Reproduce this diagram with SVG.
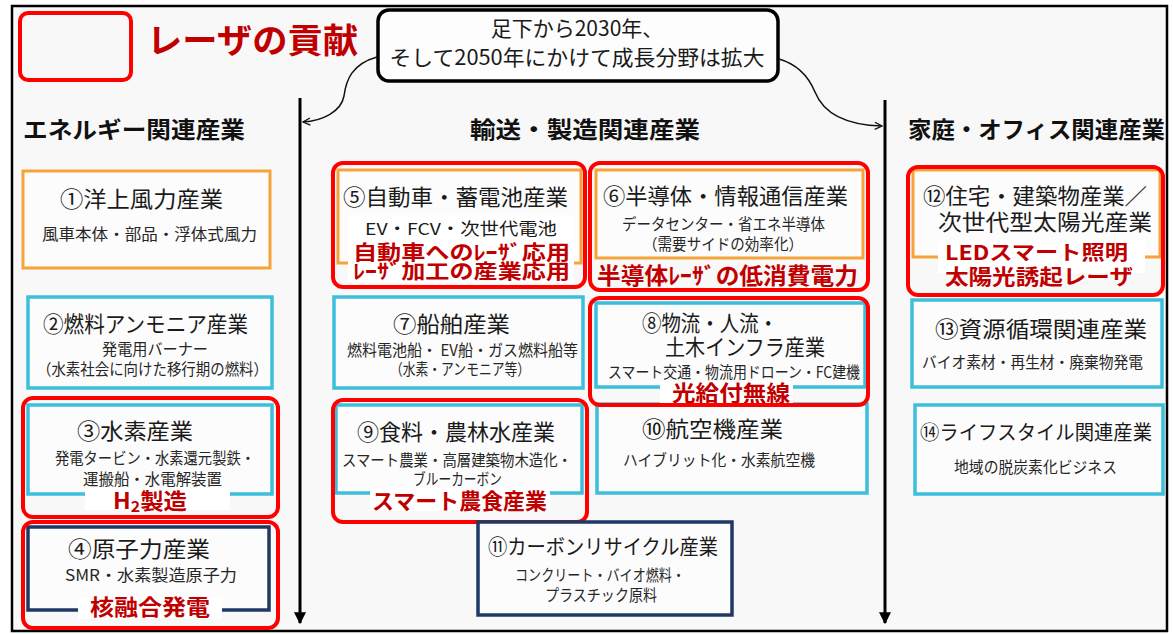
<svg xmlns="http://www.w3.org/2000/svg" width="1173" height="634" viewBox="0 0 1173 634">
<defs>
<style>
text{font-family:"Noto Sans CJK JP","Noto Sans",sans-serif;}
.hd{font-size:23px;font-weight:bold;fill:#111;}
.tt{font-size:22px;fill:#1a1a1a;}
.sb{font-size:15.5px;fill:#262626;}
.rd{font-size:22px;font-weight:bold;fill:#c00000;}
.or{fill:#fcfcfc;stroke:#f5a33b;stroke-width:3;}
.cy{fill:#fcfcfc;stroke:#3dbfdc;stroke-width:3.5;}
.nv{fill:#fcfcfc;stroke:#1f3864;stroke-width:3.5;}
.rb{fill:none;stroke:#ff0000;stroke-width:4;}
.wb{fill:#ffffff;}
.flow{fill:none;stroke:#111;stroke-width:1.5;}
.axis{fill:none;stroke:#000;stroke-width:3;}
</style>
<marker id="open" viewBox="0 0 10 10" refX="9" refY="5" markerWidth="9" markerHeight="9" markerUnits="userSpaceOnUse" orient="auto">
<path d="M1,1 L9,5 L1,9" fill="none" stroke="#111" stroke-width="1.5"/>
</marker>
<marker id="tri" viewBox="0 0 10 10" refX="9" refY="5" markerWidth="4" markerHeight="4" orient="auto">
<path d="M0,0 L10,5 L0,10 Z" fill="#000"/>
</marker>
</defs>

<rect x="12" y="6" width="1155" height="625" fill="#f8f8f8" stroke="#000" stroke-width="2.5"/>

<g id="legend">
<rect x="20" y="13" width="111" height="67" rx="8" class="rb" stroke-width="4.5"/>
<text x="147" y="53" style="font-size:34px;font-weight:bold;fill:#c00000" textLength="211" lengthAdjust="spacingAndGlyphs">レーザの貢献</text>
</g>

<g id="callout">
<rect x="378" y="10" width="400" height="71" rx="11" fill="#fdfdfd" stroke="#000" stroke-width="3.5"/>
<text x="577" y="36" text-anchor="middle" style="font-size:21px;fill:#1a1a1a">足下から2030年、</text>
<text x="577" y="65" text-anchor="middle" style="font-size:21px;fill:#1a1a1a" textLength="375" lengthAdjust="spacingAndGlyphs">そして2050年にかけて成長分野は拡大</text>
</g>

<g id="connectors">
<path class="flow" d="M377,57 C352,64 346,80 344,96 C341,112 322,121 303,122" marker-end="url(#open)"/>
<path class="flow" d="M779,59 C800,65 810,80 815,92 C823,112 842,125 882,126" marker-end="url(#open)"/>
<path class="axis" d="M300,98 L300,623" marker-end="url(#tri)"/>
<path class="axis" d="M885,100 L885,623" marker-end="url(#tri)"/>
</g>

<g id="headers">
<text x="23" y="138" class="hd" textLength="222" lengthAdjust="spacingAndGlyphs">エネルギー関連産業</text>
<text x="470" y="138" class="hd" textLength="230" lengthAdjust="spacingAndGlyphs">輸送・製造関連産業</text>
<text x="908" y="138" class="hd" textLength="257" lengthAdjust="spacingAndGlyphs">家庭・オフィス関連産業</text>
</g>

<g id="n1">
<rect x="23" y="171" width="247" height="97" class="or"/>
<text x="60" y="207" class="tt" textLength="163" lengthAdjust="spacingAndGlyphs">①洋上風力産業</text>
<text x="42" y="240" class="sb" textLength="215" lengthAdjust="spacingAndGlyphs">風車本体・部品・浮体式風力</text>
</g>

<g id="n2">
<rect x="28" y="297" width="244" height="91" class="cy"/>
<text x="43" y="332" class="tt" textLength="205" lengthAdjust="spacingAndGlyphs">②燃料アンモニア産業</text>
<text x="102" y="355" class="sb" textLength="106" lengthAdjust="spacingAndGlyphs">発電用バーナー</text>
<text x="37" y="375" class="sb" textLength="231" lengthAdjust="spacingAndGlyphs">（水素社会に向けた移行期の燃料）</text>
</g>

<g id="n3">
<rect x="28" y="405" width="244" height="89" class="cy"/>
<rect x="85" y="488" width="145" height="22" class="wb"/>
<text x="77" y="439" class="tt" textLength="116" lengthAdjust="spacingAndGlyphs">③水素産業</text>
<text x="55" y="464" class="sb" textLength="200" lengthAdjust="spacingAndGlyphs">発電タービン・水素還元製鉄・</text>
<text x="83" y="485" class="sb" textLength="139" lengthAdjust="spacingAndGlyphs">運搬船・水電解装置</text>
<text x="113" y="509" class="rd" textLength="74" lengthAdjust="spacingAndGlyphs">H<tspan dy="3" style="font-size:15px">2</tspan><tspan dy="-3">製造</tspan></text>
<rect x="23" y="398" width="255" height="119" rx="10" class="rb"/>
</g>

<g id="n4">
<rect x="28" y="527" width="241" height="83" class="nv"/>
<rect x="78" y="598" width="144" height="21" class="wb"/>
<text x="68" y="557" class="tt" textLength="142" lengthAdjust="spacingAndGlyphs">④原子力産業</text>
<text x="65" y="581" class="sb" textLength="172" lengthAdjust="spacingAndGlyphs">SMR・水素製造原子力</text>
<text x="90" y="615" class="rd" textLength="120" lengthAdjust="spacingAndGlyphs">核融合発電</text>
<rect x="23" y="522" width="255" height="106" rx="10" class="rb"/>
</g>

<g id="n5">
<rect x="338" y="170" width="243" height="93" class="or"/>
<rect x="348" y="215" width="226" height="68" class="wb"/>
<text x="343" y="205" class="tt" textLength="225" lengthAdjust="spacingAndGlyphs">⑤自動車・蓄電池産業</text>
<text x="365" y="235" style="font-size:16.5px;fill:#1a1a1a" textLength="192" lengthAdjust="spacingAndGlyphs">EV・FCV・次世代電池</text>
<text x="353" y="260" class="rd" style="font-size:20px" textLength="217" lengthAdjust="spacingAndGlyphs">自動車へのﾚｰｻﾞ応用</text>
<text x="353" y="279" class="rd" style="font-size:20px" textLength="217" lengthAdjust="spacingAndGlyphs">ﾚｰｻﾞ加工の産業応用</text>
<rect x="333" y="163" width="252" height="124" rx="10" class="rb"/>
</g>

<g id="n7">
<rect x="334" y="297" width="249" height="91" class="cy"/>
<text x="393" y="332" class="tt" textLength="117" lengthAdjust="spacingAndGlyphs">⑦船舶産業</text>
<text x="347" y="356" class="sb" textLength="231" lengthAdjust="spacingAndGlyphs">燃料電池船・ EV船・ガス燃料船等</text>
<text x="390" y="375" class="sb" textLength="140" lengthAdjust="spacingAndGlyphs">（水素・アンモニア等）</text>
</g>

<g id="n9">
<rect x="336" y="405" width="246" height="88" class="cy"/>
<rect x="370" y="488" width="180" height="23" class="wb"/>
<text x="357" y="440" class="tt" textLength="198" lengthAdjust="spacingAndGlyphs">⑨食料・農林水産業</text>
<text x="342" y="466" class="sb" textLength="230" lengthAdjust="spacingAndGlyphs">スマート農業・高層建築物木造化・</text>
<text x="413" y="485" class="sb" textLength="89" lengthAdjust="spacingAndGlyphs">ブルーカーボン</text>
<text x="372" y="509" class="rd" textLength="175" lengthAdjust="spacingAndGlyphs">スマート農食産業</text>
<rect x="333" y="400" width="254" height="122" rx="10" class="rb"/>
</g>

<g id="n11">
<rect x="478" y="522" width="254" height="93" class="nv"/>
<text x="488" y="554" class="tt" style="font-size:21px" textLength="230" lengthAdjust="spacingAndGlyphs">⑪カーボンリサイクル産業</text>
<text x="515" y="581" class="sb" textLength="170" lengthAdjust="spacingAndGlyphs">コンクリート・バイオ燃料・</text>
<text x="545" y="601" class="sb" textLength="112" lengthAdjust="spacingAndGlyphs">プラスチック原料</text>
</g>

<g id="n6">
<rect x="596" y="170" width="267" height="88" class="or"/>
<text x="603" y="204" class="tt" textLength="245" lengthAdjust="spacingAndGlyphs">⑥半導体・情報通信産業</text>
<text x="622" y="230" class="sb" textLength="203" lengthAdjust="spacingAndGlyphs">データセンター・省エネ半導体</text>
<text x="643" y="250" class="sb" textLength="160" lengthAdjust="spacingAndGlyphs">（需要サイドの効率化）</text>
<text x="597" y="284" class="rd" style="font-size:23px" textLength="261" lengthAdjust="spacingAndGlyphs">半導体ﾚｰｻﾞの低消費電力</text>
<rect x="590" y="163" width="278" height="127" rx="10" class="rb"/>
</g>

<g id="n10">
<rect x="597" y="404" width="270" height="89" class="cy"/>
<text x="642" y="437" class="tt" textLength="141" lengthAdjust="spacingAndGlyphs">⑩航空機産業</text>
<text x="623" y="466" class="sb" textLength="192" lengthAdjust="spacingAndGlyphs">ハイブリット化・水素航空機</text>
</g>

<g id="n8">
<rect x="596" y="303" width="269" height="84" class="cy"/>
<rect x="660" y="382" width="133" height="21" class="wb"/>
<text x="642" y="331" class="tt" textLength="136" lengthAdjust="spacingAndGlyphs">⑧物流・人流・</text>
<text x="665" y="355" class="tt" textLength="160" lengthAdjust="spacingAndGlyphs">土木インフラ産業</text>
<text x="608" y="378" class="sb" textLength="252" lengthAdjust="spacingAndGlyphs">スマート交通・物流用ドローン・FC建機</text>
<text x="672" y="401" class="rd" style="font-size:22px" textLength="118" lengthAdjust="spacingAndGlyphs">光給付無線</text>
<rect x="590" y="298" width="278" height="107" rx="10" class="rb"/>
</g>

<g id="n12">
<rect x="913" y="170" width="247" height="87" class="or"/>
<rect x="938" y="240" width="207" height="33" class="wb"/>
<text x="923" y="204" class="tt" textLength="224" lengthAdjust="spacingAndGlyphs">⑫住宅・建築物産業／</text>
<text x="938" y="230" class="tt" textLength="214" lengthAdjust="spacingAndGlyphs">次世代型太陽光産業</text>
<text x="945" y="260" class="rd" style="font-size:20px" textLength="183" lengthAdjust="spacingAndGlyphs">LEDスマート照明</text>
<text x="945" y="284" class="rd" style="font-size:21px" textLength="188" lengthAdjust="spacingAndGlyphs">太陽光誘起レーザ</text>
<rect x="908" y="167" width="255" height="128" rx="10" class="rb"/>
</g>

<g id="n13">
<rect x="912" y="300" width="250" height="87" class="cy"/>
<text x="935" y="337" class="tt" textLength="212" lengthAdjust="spacingAndGlyphs">⑬資源循環関連産業</text>
<text x="922" y="368" class="sb" textLength="221" lengthAdjust="spacingAndGlyphs">バイオ素材・再生材・廃棄物発電</text>
</g>

<g id="n14">
<rect x="915" y="405" width="248" height="89" class="cy"/>
<text x="920" y="440" class="tt" style="font-size:20px" textLength="232" lengthAdjust="spacingAndGlyphs">⑭ライフスタイル関連産業</text>
<text x="954" y="473" class="sb" textLength="163" lengthAdjust="spacingAndGlyphs">地域の脱炭素化ビジネス</text>
</g>
</svg>
